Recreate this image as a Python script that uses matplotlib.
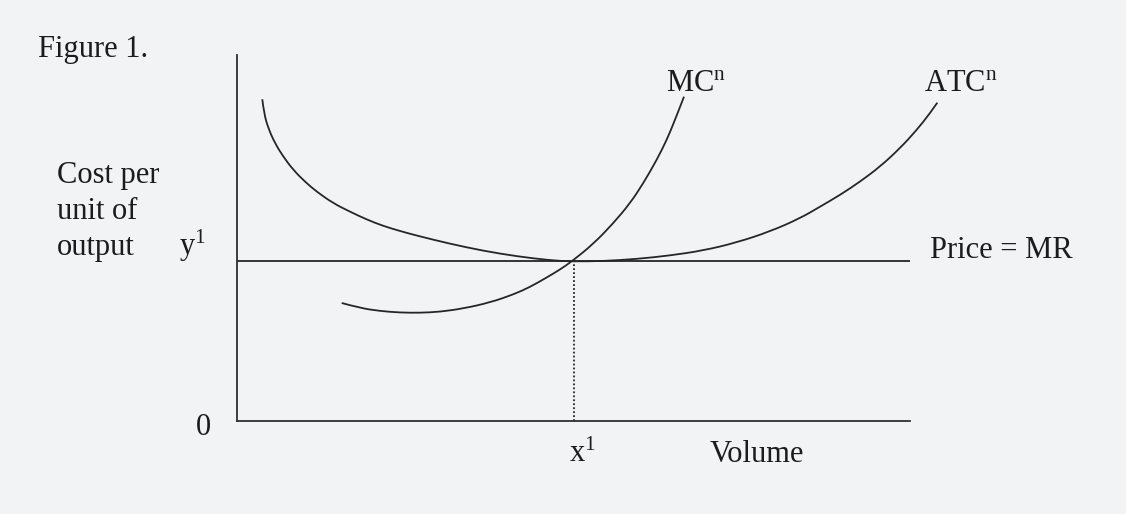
import matplotlib
matplotlib.use("Agg")
import matplotlib.pyplot as plt
from matplotlib.path import Path
from matplotlib.patches import PathPatch

plt.rcParams['font.family'] = ['Liberation Serif', 'DejaVu Serif']
plt.rcParams['mathtext.fontset'] = 'custom'
plt.rcParams['mathtext.rm'] = 'Liberation Serif'
plt.rcParams['mathtext.it'] = 'Liberation Serif:italic'

# ---- data (volume, cost per unit) ----
atc_volume = [3.76, 4.01, 4.65, 5.65, 6.88, 8.37, 10.10, 11.84, 14.31, 16.79, 19.27,
              21.74, 24.22, 26.70, 31.65, 36.60, 41.56, 46.51, 49.78, 54.38, 59.39,
              64.34, 69.29, 74.25, 79.20, 83.66, 86.63, 89.60, 92.57, 95.54, 98.51,
              101.00, 102.97, 104.06]
atc_cost = [87.90, 84.07, 79.97, 75.87, 72.21, 68.58, 65.38, 62.65, 59.48, 57.19, 55.05,
            53.28, 51.91, 50.66, 48.42, 46.50, 45.00, 43.91, 43.58, 43.69, 44.26,
            45.22, 46.58, 48.77, 51.78, 55.38, 58.55, 61.75, 65.38, 69.48, 74.51,
            79.51, 84.07, 86.97]

mc_volume = [15.56, 18.28, 21.25, 24.22, 27.19, 30.16, 33.63, 37.59, 41.06, 43.54,
             46.02, 48.00, 49.73, 52.94, 55.91, 58.40, 60.37, 62.36, 63.85, 65.08, 66.42]
mc_cost = [32.24, 30.87, 30.05, 29.62, 29.56, 29.84, 30.74, 32.38, 34.56, 36.61,
           39.21, 41.39, 43.58, 48.36, 54.02, 59.48, 64.95, 71.31, 76.78, 82.24, 88.61]

price_mr = 43.6        # y1
x1_volume = 50.0       # x1
axis_max = 100

W, H = 1126, 514
fig = plt.figure(figsize=(W / 100, H / 100), dpi=100)
bg = '#f1f3f5'
fig.patch.set_facecolor(bg)

def fx(px):
    return px / W

def fy(py):
    return 1 - py / H

ax = fig.add_axes([fx(237), fy(421), fx(910) - fx(237), fy(55) - fy(421)])
ax.set_facecolor('none')
ax.set_xlim(0, axis_max)
ax.set_ylim(0, axis_max)
for s in ['top', 'right']:
    ax.spines[s].set_visible(False)
for s in ['left', 'bottom']:
    ax.spines[s].set_color('#303030')
    ax.spines[s].set_linewidth(1.3)
ax.set_xticks([])
ax.set_yticks([])

lc = '#262626'


def smooth_curve(xs, ys, **kw):
    """Quadratic B-spline path through the read points (drawn by matplotlib)."""
    pts = list(zip(xs, ys))
    verts = [pts[0]]
    codes = [Path.MOVETO]
    n = len(pts)
    for i in range(1, n - 1):
        if i < n - 2:
            end = ((pts[i][0] + pts[i + 1][0]) / 2, (pts[i][1] + pts[i + 1][1]) / 2)
        else:
            end = pts[n - 1]
        verts += [pts[i], end]
        codes += [Path.CURVE3, Path.CURVE3]
    patch = PathPatch(Path(verts, codes), facecolor='none', transform=ax.transData,
                      clip_on=False, **kw)
    ax.add_patch(patch)


ax.axhline(price_mr, xmin=0, xmax=1, color=lc, lw=1.3)
ax.plot([x1_volume, x1_volume], [0, price_mr], color=lc, lw=1.3,
        linestyle=(0, (1, 1.2)))
smooth_curve(atc_volume, atc_cost, edgecolor=lc, lw=1.3)
smooth_curve(mc_volume, mc_cost, edgecolor=lc, lw=1.3)

tc = '#1c1c1c'
fs = 22


def label(px, py, s, ha='left'):
    fig.text(fx(px), fy(py), s, fontsize=fs, color=tc, ha=ha, va='baseline')


label(38, 57, 'Figure 1.')
label(57, 183, 'Cost per')
label(57, 219, 'unit of')
label(57, 255, 'output')
label(179, 255, 'y$^{1}$')
label(666, 91, 'MC$^{\\mathrm{n}}$')
label(924, 91, 'ATC$^{\\mathrm{n}}$')
label(930, 258, 'Price = MR')
label(196, 435, '0')
label(569, 462, 'x$^{1}$')
label(710, 462, 'Volume')

fig.savefig('out.png', dpi=100, facecolor=bg)
